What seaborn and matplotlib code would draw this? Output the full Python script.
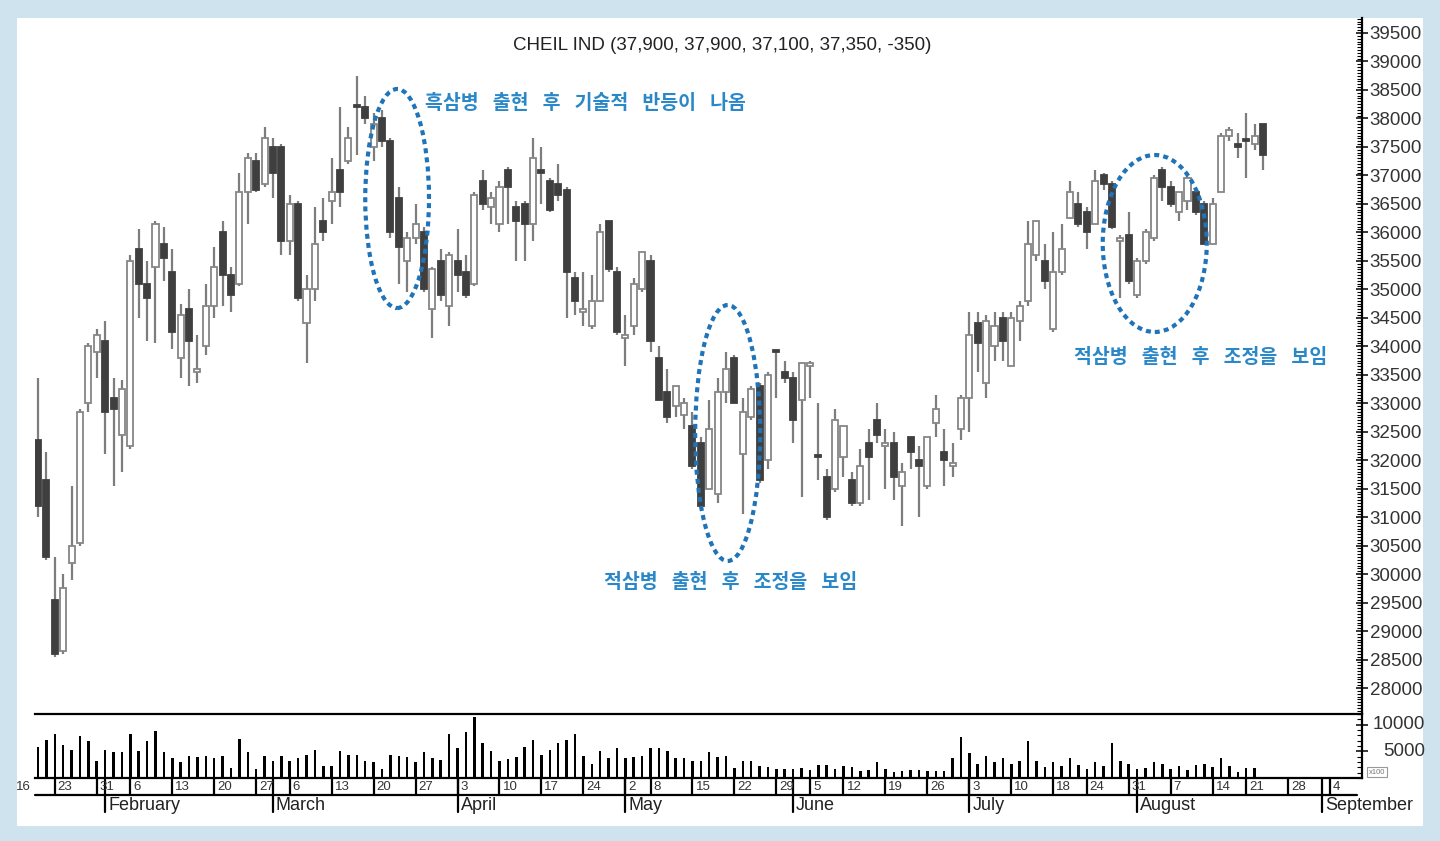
import numpy as np
import pandas as pd
import matplotlib
matplotlib.use('Agg')
import matplotlib.pyplot as plt
import seaborn as sns
from matplotlib.patches import Ellipse, Rectangle
from matplotlib.ticker import MultipleLocator, FixedLocator, StrMethodFormatter

# daily candles, CHEIL IND, from 2006-01-19
opens = [32350, 31650, 29550, 28650, 30200, 30550, 33000, 33900, 34100, 33100,
         32450, 32250, 35700, 35100, 35400, 35800, 35300, 33800, 34650, 33550,
         34000, 34700, 36000, 35250, 35100, 36700, 37250, 36850, 37500, 37500,
         35850, 36500, 34400, 35000, 36200, 36550, 37100, 37250, 38200, 38200,
         37500, 38000, 37600, 36600, 35500, 35900, 36000, 34650, 35500, 34700,
         35500, 35300, 35100, 36900, 36450, 36150, 37100, 36450, 36500, 36150,
         37100, 36900, 36850, 36750, 35200, 34600, 34350, 34800, 36200, 35300,
         34150, 34350, 35000, 35500, 33800, 33200, 32950, 32800, 32600, 32300,
         31500, 31400, 33200, 33800, 32100, 32750, 33300, 32000, 33900, 33550,
         33450, 33050, 33650, 32050, 31700, 31500, 32050, 31650, 31250, 32300,
         32700, 32250, 32300, 31550, 32400, 32000, 31550, 32650, 32150, 31900,
         32550, 33100, 34400, 33350, 34000, 34500, 33650, 34450, 34800, 35600,
         35500, 34300, 35300, 36250, 36500, 36350, 36150, 37000, 36850, 35850,
         35950, 34900, 35500, 35900, 37100, 36800, 36350, 36550, 36700, 36500,
         35800, 36700, 37700, 37550, 37600, 37550, 37900]
highs = [33450, 32150, 30300, 30000, 31550, 32900, 34050, 34300, 34450, 33450,
         33400, 35600, 36050, 35500, 36200, 36100, 35700, 34750, 35000, 34200,
         35100, 35750, 36200, 35400, 37050, 37400, 37400, 37850, 37650, 37550,
         36650, 36550, 35250, 36450, 36600, 37300, 38200, 37850, 38750, 38400,
         38100, 38150, 37650, 36800, 36000, 36500, 36100, 35400, 35700, 35650,
         36050, 35600, 36700, 37100, 36700, 36900, 37150, 36550, 36550, 37650,
         37500, 36950, 37200, 36800, 35300, 35300, 35250, 36150, 36200, 35400,
         34550, 35200, 35650, 35600, 34000, 33600, 33300, 33100, 32850, 32400,
         33050, 33450, 33900, 33850, 33100, 33300, 33350, 33550, 33900, 33750,
         33550, 33700, 33750, 33000, 31850, 32900, 32600, 31800, 32200, 32550,
         33000, 32550, 32500, 31950, 32400, 32250, 32400, 33150, 32550, 32300,
         33150, 34600, 34600, 34550, 34600, 34600, 34600, 34800, 36200, 36200,
         35800, 36000, 36150, 36900, 36700, 36450, 37100, 37050, 36900, 35950,
         36350, 35550, 36050, 37000, 37150, 36900, 36700, 37050, 36750, 36550,
         36600, 37750, 37850, 37750, 38100, 37900, 37900]
lows = [31000, 30250, 28550, 28600, 29900, 30500, 32850, 33450, 32100, 31550,
        31800, 32200, 34500, 34100, 34050, 35150, 33950, 33450, 33300, 33350,
        33850, 34500, 34700, 34600, 35050, 36150, 36700, 36800, 36600, 35600,
        35600, 34800, 33700, 34800, 35850, 36150, 36450, 37200, 37350, 37900,
        37250, 37500, 35900, 35100, 34950, 35800, 34950, 34150, 34800, 34350,
        34950, 34850, 35050, 36400, 36150, 36000, 36150, 35500, 35500, 35850,
        36500, 36350, 36550, 34500, 34550, 34350, 34300, 34800, 35300, 34200,
        33650, 34200, 34950, 33900, 33050, 32650, 32750, 32550, 31850, 31150,
        31500, 31250, 33000, 33000, 31050, 32700, 31600, 31850, 33100, 33350,
        32300, 31350, 33100, 31650, 30950, 31450, 31700, 31200, 31200, 31300,
        32300, 31500, 31300, 30850, 31850, 31000, 31500, 32400, 31550, 31700,
        32350, 32500, 33550, 33100, 33750, 33750, 33650, 34100, 34700, 35500,
        35000, 34250, 35250, 36250, 36100, 35700, 36150, 36750, 36050, 34850,
        35100, 34850, 35450, 35850, 36550, 36450, 36200, 36400, 36300, 35800,
        35800, 36700, 37600, 37300, 36950, 37450, 37100]
closes = [31200, 30300, 28600, 29750, 30500, 32850, 34000, 34200, 32850, 32900,
          33250, 35500, 35100, 34850, 36150, 35550, 34250, 34550, 34100, 33600,
          34700, 35400, 35250, 34900, 36700, 37300, 36750, 37650, 37050, 35850,
          36500, 34850, 35000, 35800, 36000, 36700, 36700, 37650, 38200, 38000,
          37900, 37600, 36000, 35750, 35900, 36150, 35000, 35350, 34900, 35600,
          35250, 34900, 36650, 36500, 36600, 36800, 36800, 36200, 36150, 37300,
          37050, 36400, 36650, 35300, 34800, 34650, 34800, 36000, 35350, 34250,
          34200, 35100, 35650, 34100, 33050, 32750, 33300, 33000, 31900, 31200,
          32550, 33200, 33600, 33000, 32850, 33250, 31650, 33500, 33900, 33450,
          32700, 33700, 33700, 32050, 31000, 32700, 32600, 31250, 31900, 32050,
          32450, 32300, 31700, 31800, 32150, 31900, 32400, 32900, 32000, 31950,
          33100, 34200, 34050, 34450, 34350, 34100, 34500, 34700, 35800, 36200,
          35150, 35300, 35700, 36700, 36150, 36000, 36900, 36850, 36100, 35900,
          35150, 35500, 36000, 36950, 36800, 36500, 36700, 36950, 36350, 35800,
          36500, 37700, 37800, 37500, 37600, 37700, 37350]
# volume in units of 100 shares
volumes = [5900, 7200, 8300, 6100, 5200, 7800, 6850, 3150, 5200, 4800,
           4800, 8300, 5000, 6850, 8900, 4800, 3700, 3000, 4100, 3900,
           4100, 3700, 4100, 1850, 7400, 4800, 1700, 4100, 3150, 4100,
           3150, 3700, 4300, 5200, 2200, 2200, 5000, 4300, 4300, 3150,
           3000, 1700, 4300, 4100, 4000, 3000, 4800, 3700, 3300, 8300,
           5700, 8700, 11500, 6500, 5000, 3150, 3500, 3900, 5900, 7200,
           4300, 5200, 6500, 7200, 8300, 4100, 2600, 5000, 3700, 5700,
           3700, 3900, 4100, 5700, 5600, 5000, 3700, 3700, 3150, 3150,
           4800, 3900, 4100, 1850, 3150, 3150, 2200, 2000, 1700, 1700,
           1700, 1850, 1500, 2400, 2400, 1700, 2200, 2000, 1300, 1500,
           3000, 1600, 1100, 1300, 1500, 1500, 1300, 1300, 1300, 3700,
           7600, 4600, 2600, 4100, 3000, 3700, 2600, 3150, 6850, 3150,
           2000, 3000, 2200, 3700, 2400, 1600, 3000, 2200, 6650, 3150,
           2600, 1700, 1800, 3000, 2600, 1700, 2200, 1500, 2400, 2600,
           2100, 3700, 2200, 1100, 1850, 1850, 0]

holidays = ['2006-01-30', '2006-03-01', '2006-05-01', '2006-05-05',
            '2006-05-31', '2006-06-06', '2006-07-17', '2006-08-15']
days = pd.bdate_range('2006-01-16', '2006-09-08')
days = days[~days.isin(pd.to_datetime(holidays))]
first = days.get_loc(pd.Timestamp('2006-01-19'))
xpos = np.arange(first, first + len(opens))

wk = days.isocalendar().week.values
week_ticks = [i for i in range(len(days)) if i == 0 or wk[i] != wk[i - 1]]
week_labels = [str(days[i].day) for i in week_ticks]
month_ticks = [i for i in range(1, len(days)) if days[i].month != days[i - 1].month]
month_labels = [days[i].strftime('%B') for i in month_ticks]

sns.set_style('white')
plt.rcParams['font.family'] = ['Liberation Sans', 'Noto Sans CJK KR']
kr = ['Noto Sans CJK KR', 'DejaVu Sans']

W, H = 1440, 841
fig = plt.figure(figsize=(W / 100, H / 100), dpi=100)
fig.patch.set_facecolor('#cfe3ef')
fig.add_artist(Rectangle((17 / W, 1 - 826 / H), 1406 / W, 808 / H,
                         transform=fig.transFigure, facecolor='white',
                         edgecolor='none', zorder=0))

ax = fig.add_axes([35 / W, 1 - 714 / H, 1327 / W, 696 / H])
axv = fig.add_axes([35 / W, 1 - 778 / H, 1327 / W, 64 / H])
for a in (ax, axv):
    a.set_facecolor('none')

xlim = (first - 0.36, first + 157.8)

# candles
o = np.array(opens)
c = np.array(closes)
up = c > o
bottoms = np.minimum(o, c)
heights = np.maximum(np.abs(c - o), 40)
faces = ['white' if u else '#3f3f3f' for u in up]
edges = ['#868686' if u else '#3f3f3f' for u in up]
ax.vlines(xpos, lows, highs, colors='#7d7d7d', lw=1.6, zorder=2)
ax.bar(xpos, heights, bottom=bottoms, width=0.72, color=faces,
       edgecolor=edges, linewidth=1.3, zorder=3)

ax.set_xlim(*xlim)
ax.set_ylim(27544, 39763)
ax.set_xticks([])
for s in ['top', 'left', 'bottom']:
    ax.spines[s].set_visible(False)
ax.spines['right'].set_linewidth(1.6)
ax.spines['right'].set_color('black')
ax.yaxis.tick_right()
ax.yaxis.set_major_locator(MultipleLocator(500))
ax.yaxis.set_minor_locator(MultipleLocator(50))
ax.yaxis.set_major_formatter(StrMethodFormatter('{x:.0f}'))
ax.tick_params(axis='y', which='major', direction='inout', length=9, width=1.1,
               labelsize=13.5, labelcolor='#333333', pad=1, color='black')
ax.tick_params(axis='y', which='minor', direction='in', length=3.5, width=0.8,
               color='black')

# annotation ellipses and notes
blue_dot = '#1f73b8'
blue_txt = '#2a88c9'
for cx, cy, w, h in [(first + 42.8, 36594, 7.6, 3845),
                     (first + 82.2, 32477, 7.75, 4494),
                     (first + 133.1, 35804, 12.4, 3107)]:
    ax.add_patch(Ellipse((cx, cy), w, h, fill=False, edgecolor=blue_dot,
                         lw=3, linestyle=(0, (1.2, 1.0)), zorder=6))
notes = [('흑삼병 출현 후 기술적 반등이 나옴', first + 65.2, 38271),
         ('적삼병 출현 후 조정을 보임', first + 82.6, 29861),
         ('적삼병 출현 후 조정을 보임', first + 138.6, 33812)]
for txt, tx, ty in notes:
    # the original lettering uses wide word gaps
    ax.text(tx, ty, txt.replace(' ', '\u2002 '), ha='center', va='center',
            fontsize=14, color=blue_txt, fontweight='bold', family=kr, zorder=7)

fig.text(722 / W, 1 - 45 / H, 'CHEIL IND (37,900, 37,900, 37,100, 37,350, -350)',
         ha='center', va='center', fontsize=13.5, color='#222222')

# volume
vol_df = pd.DataFrame({'pos': xpos, 'vol': volumes})
sns.barplot(data=vol_df, x='pos', y='vol', native_scale=True, color='black',
            width=0.3, errorbar=None, saturation=1, linewidth=0, ax=axv)
axv.set_xlim(*xlim)
axv.set_ylim(0, 12000)
axv.set_xlabel('')
axv.set_ylabel('')
axv.set_xticks([])
axv.spines['left'].set_visible(False)
for s in ['top', 'bottom', 'right']:
    axv.spines[s].set_linewidth(1.6)
    axv.spines[s].set_color('black')
axv.yaxis.tick_right()
axv.yaxis.set_major_locator(FixedLocator([5000, 10000]))
axv.yaxis.set_minor_locator(MultipleLocator(1000))
axv.tick_params(axis='y', which='major', direction='inout', length=9, width=1.1,
                labelright=False, color='black')
axv.tick_params(axis='y', which='minor', direction='in', length=3.5, width=0.8,
                color='black')
for v in [5000, 10000]:
    axv.annotate(str(v), xy=(1, v), xycoords=('axes fraction', 'data'),
                 xytext=(63, 0), textcoords='offset pixels', ha='right',
                 va='center', fontsize=13.5, color='#333333',
                 annotation_clip=False)
fig.text(1377 / W, 1 - 772 / H, 'x100', ha='center', va='center', fontsize=5.5,
         color='#777777',
         bbox=dict(boxstyle='square,pad=0.25', fc='white', ec='#999999', lw=0.8))

# date axis below volume panel
tr = axv.get_xaxis_transform()
row = -17 / 64
axv.plot([0, 0.996], [row, row], color='black', lw=1.6,
         transform=axv.transAxes, clip_on=False)
for t, lbl in zip(week_ticks, week_labels):
    if t >= xlim[0]:
        axv.plot([t, t], [0, row], color='black', lw=1.6, transform=tr,
                 clip_on=False)
    axv.annotate(lbl, xy=(t, row / 2), xycoords=tr, xytext=(3, 0),
                 textcoords='offset pixels', ha='left', va='center',
                 fontsize=9.5, color='#333333', annotation_clip=False)
for t, lbl in zip(month_ticks, month_labels):
    axv.plot([t, t], [0, -34 / 64], color='black', lw=1.6, transform=tr,
             clip_on=False)
    axv.annotate(lbl, xy=(t, -28 / 64), xycoords=tr, xytext=(3, 0),
                 textcoords='offset pixels', ha='left', va='center',
                 fontsize=13, color='#222222', annotation_clip=False)

fig.savefig('out.png', dpi=100)
